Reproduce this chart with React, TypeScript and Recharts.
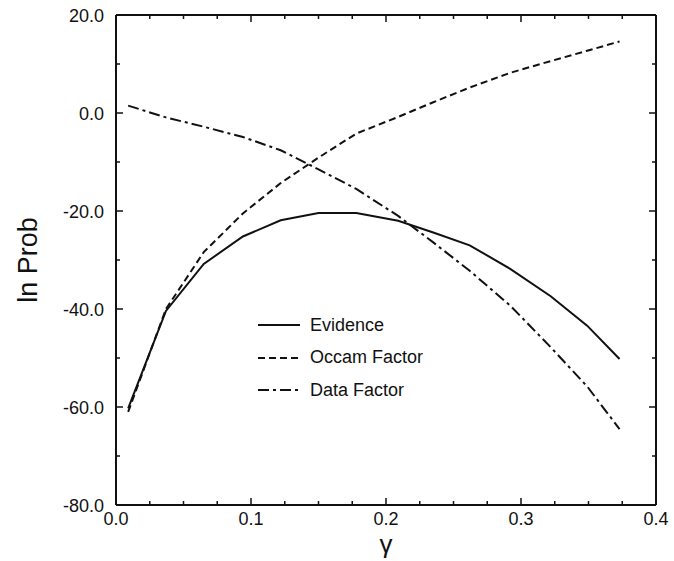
import React from "react";
import { LineChart, Line, XAxis, YAxis, Legend } from "recharts";

// gamma values along the x axis
const gamma = [0.009, 0.037, 0.065, 0.094, 0.122, 0.15, 0.178, 0.209, 0.235, 0.262, 0.292, 0.322, 0.349, 0.373];
const evidence = [-60.3, -40.4, -30.8, -25.2, -21.9, -20.4, -20.4, -22.0, -24.4, -27.0, -31.8, -37.4, -43.4, -50.2];
const occamFactor = [-61.0, -40.0, -28.4, -20.5, -14.3, -9.1, -4.2, -0.8, 2.2, 5.2, 8.2, 10.6, 12.7, 14.6];
const dataFactor = [1.5, -0.9, -2.8, -4.9, -7.6, -11.5, -15.5, -21.0, -26.4, -32.2, -39.3, -47.8, -55.8, -64.5];

const xTicks = [0, 0.025, 0.05, 0.075, 0.1, 0.125, 0.15, 0.175, 0.2, 0.225, 0.25, 0.275, 0.3, 0.325, 0.35, 0.375, 0.4];
const xMajor = [0, 0.1, 0.2, 0.3, 0.4];
const yTicks = [20, 10, 0, -10, -20, -30, -40, -50, -60, -70, -80];
const yMajor = [20, 0, -20, -40, -60, -80];

// each series hooks onto one of the frame axes so that all four get drawn
const series = [
  { key: "evidence", name: "Evidence", dash: undefined, xId: "bottom", yId: "left" },
  { key: "occam", name: "Occam Factor", dash: "7 4", xId: "top", yId: "right" },
  { key: "data", name: "Data Factor", dash: "11 4 3 4", xId: "bottom", yId: "left" },
];

const rows = gamma.map((g, i) => ({
  gamma: g,
  evidence: evidence[i],
  occam: occamFactor[i],
  data: dataFactor[i],
}));

const FONT = "'Liberation Sans', Arial, Helvetica, sans-serif";
const INK = "#111";

const isMajor = (list: number[], v: number) => list.some((m) => Math.abs(m - v) < 1e-9);

// ticks point inwards on all four sides, labels only on bottom/left
function makeTick(side: "bottom" | "top" | "left" | "right") {
  return (props: any) => {
    const { x, y, payload } = props;
    const v = payload.value;
    const major = side === "bottom" || side === "top" ? isMajor(xMajor, v) : isMajor(yMajor, v);
    const len = major ? 7 : 4;
    let line;
    if (side === "bottom") line = <line x1={x} y1={y} x2={x} y2={y - len} />;
    else if (side === "top") line = <line x1={x} y1={y} x2={x} y2={y + len} />;
    else if (side === "left") line = <line x1={x} y1={y} x2={x + len} y2={y} />;
    else line = <line x1={x} y1={y} x2={x - len} y2={y} />;
    return (
      <g stroke={INK} strokeWidth={1.5}>
        {line}
        {major && side === "bottom" && (
          <text x={x} y={y + 20} textAnchor="middle" fill={INK} stroke="none" fontSize={18} fontFamily={FONT}>
            {v.toFixed(1)}
          </text>
        )}
        {major && side === "left" && (
          <text x={x - 12} y={y + 7} textAnchor="end" fill={INK} stroke="none" fontSize={18} fontFamily={FONT}>
            {v.toFixed(1)}
          </text>
        )}
      </g>
    );
  };
}

const YTitle = (props: any) => {
  const vb = props.viewBox;
  const cx = vb.x + 37;
  const cy = vb.y + vb.height / 2;
  return (
    <text x={cx} y={cy} transform={`rotate(-90, ${cx}, ${cy})`} textAnchor="middle" fill={INK} fontSize={27} fontFamily={FONT}>
      ln Prob
    </text>
  );
};

const XTitle = (props: any) => {
  const vb = props.viewBox;
  return (
    <text x={vb.x + vb.width / 2} y={vb.y + 48} textAnchor="middle" fill={INK} fontSize={26} fontFamily={FONT}>
      γ
    </text>
  );
};

const legendContent = () => (
  <div style={{ fontFamily: FONT, fontSize: 18, color: INK }}>
    {series.map((s) => (
      <div key={s.key} style={{ display: "flex", alignItems: "center", height: 32.5 }}>
        <svg width={44} height={6} style={{ display: "block" }}>
          <line x1={0} y1={3} x2={42} y2={3} stroke={INK} strokeWidth={2} strokeDasharray={s.dash} />
        </svg>
        <span style={{ marginLeft: 8 }}>{s.name}</span>
      </div>
    ))}
  </div>
);

const frame = { stroke: INK, strokeWidth: 2 };

export default function App() {
  return (
    <div style={{ position: "absolute", left: 0, top: 0, width: 674, height: 561, background: "#fff" }}>
      <LineChart width={674} height={561} data={rows} margin={{ top: 14, right: 17, bottom: 0, left: 0 }}>
        <XAxis
          xAxisId="bottom"
          dataKey="gamma"
          type="number"
          domain={[0, 0.4]}
          ticks={xTicks}
          interval={0}
          height={56}
          tickSize={0}
          tickMargin={0}
          tickLine={false}
          tick={makeTick("bottom")}
          axisLine={frame}
          label={<XTitle />}
        />
        <XAxis
          xAxisId="top"
          orientation="top"
          dataKey="gamma"
          type="number"
          domain={[0, 0.4]}
          ticks={xTicks}
          interval={0}
          height={1}
          tickSize={0}
          tickMargin={0}
          tickLine={false}
          tick={makeTick("top")}
          axisLine={frame}
        />
        <YAxis
          yAxisId="left"
          type="number"
          domain={[-80, 20]}
          ticks={yTicks}
          interval={0}
          width={116}
          tickSize={0}
          tickMargin={0}
          tickLine={false}
          tick={makeTick("left")}
          axisLine={frame}
          label={<YTitle />}
        />
        <YAxis
          yAxisId="right"
          orientation="right"
          type="number"
          domain={[-80, 20]}
          ticks={yTicks}
          interval={0}
          width={1}
          tickSize={0}
          tickMargin={0}
          tickLine={false}
          tick={makeTick("right")}
          axisLine={frame}
        />
        <Legend
          layout="vertical"
          align="center"
          verticalAlign="middle"
          content={legendContent}
          wrapperStyle={{ left: 258, top: 309, width: 200 }}
        />
        {series.map((s) => (
          <Line
            key={s.key}
            xAxisId={s.xId}
            yAxisId={s.yId}
            type="linear"
            dataKey={s.key}
            name={s.name}
            stroke={INK}
            strokeWidth={2}
            strokeDasharray={s.dash}
            dot={false}
            activeDot={false}
            isAnimationActive={false}
          />
        ))}
      </LineChart>
    </div>
  );
}
